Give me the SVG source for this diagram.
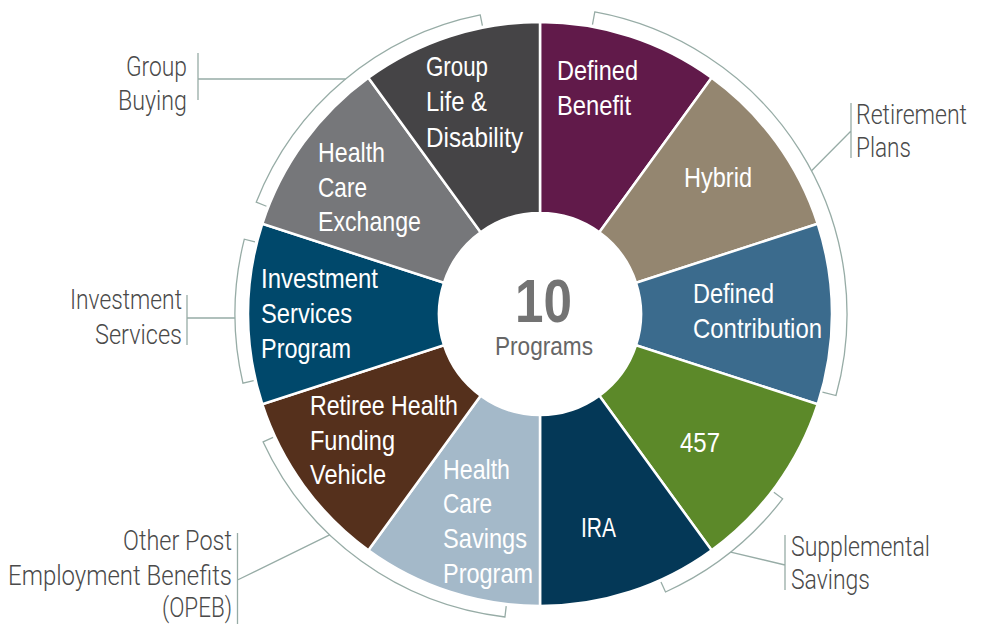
<svg xmlns="http://www.w3.org/2000/svg" width="984" height="624" viewBox="0 0 984 624">
<style>
.seg{stroke:#ffffff;stroke-width:2.5;stroke-linejoin:miter}
.lbl{font-family:'Liberation Sans',Arial,sans-serif;font-size:28px;fill:#ffffff}
.out{font-family:Roboto,'Liberation Sans',Arial,sans-serif;font-weight:300;font-size:28px;fill:#4a4a4a}
.br{fill:none;stroke:#97aca6;stroke-width:1.3}
</style>
<rect width="984" height="624" fill="#ffffff"/>
<g id="defined-benefit">
<path class="seg" fill="#611a4a" d="M 540 22 A 292 292 0 0 1 711.63 77.77 L 599.37 232.29 A 101 101 0 0 0 540 213 Z"/>
<text class="lbl" x="557" y="80" textLength="81" lengthAdjust="spacingAndGlyphs">Defined</text>
<text class="lbl" x="557" y="115" textLength="74" lengthAdjust="spacingAndGlyphs">Benefit</text>
</g>
<g id="hybrid">
<path class="seg" fill="#948670" d="M 711.63 77.77 A 292 292 0 0 1 817.71 223.77 L 636.06 282.79 A 101 101 0 0 0 599.37 232.29 Z"/>
<text class="lbl" x="684" y="187" textLength="68" lengthAdjust="spacingAndGlyphs">Hybrid</text>
</g>
<g id="defined-contribution">
<path class="seg" fill="#3b6b8d" d="M 817.71 223.77 A 292 292 0 0 1 817.71 404.23 L 636.06 345.21 A 101 101 0 0 0 636.06 282.79 Z"/>
<text class="lbl" x="693" y="303" textLength="81" lengthAdjust="spacingAndGlyphs">Defined</text>
<text class="lbl" x="693" y="338" textLength="129" lengthAdjust="spacingAndGlyphs">Contribution</text>
</g>
<g id="plan-457">
<path class="seg" fill="#5c8929" d="M 817.71 404.23 A 292 292 0 0 1 711.63 550.23 L 599.37 395.71 A 101 101 0 0 0 636.06 345.21 Z"/>
<text class="lbl" x="680" y="452" textLength="40" lengthAdjust="spacingAndGlyphs">457</text>
</g>
<g id="ira">
<path class="seg" fill="#043857" d="M 711.63 550.23 A 292 292 0 0 1 540 606 L 540 415 A 101 101 0 0 0 599.37 395.71 Z"/>
<text class="lbl" x="581" y="537" textLength="35" lengthAdjust="spacingAndGlyphs">IRA</text>
</g>
<g id="health-care-savings-program">
<path class="seg" fill="#a4b9c9" d="M 540 606 A 292 292 0 0 1 368.37 550.23 L 480.63 395.71 A 101 101 0 0 0 540 415 Z"/>
<text class="lbl" x="443" y="479" textLength="67" lengthAdjust="spacingAndGlyphs">Health</text>
<text class="lbl" x="443" y="513" textLength="49" lengthAdjust="spacingAndGlyphs">Care</text>
<text class="lbl" x="443" y="548" textLength="84" lengthAdjust="spacingAndGlyphs">Savings</text>
<text class="lbl" x="443" y="583" textLength="90" lengthAdjust="spacingAndGlyphs">Program</text>
</g>
<g id="retiree-health-funding-vehicle">
<path class="seg" fill="#55301c" d="M 368.37 550.23 A 292 292 0 0 1 262.29 404.23 L 443.94 345.21 A 101 101 0 0 0 480.63 395.71 Z"/>
<text class="lbl" x="310" y="415" textLength="148" lengthAdjust="spacingAndGlyphs">Retiree Health</text>
<text class="lbl" x="310" y="450" textLength="85" lengthAdjust="spacingAndGlyphs">Funding</text>
<text class="lbl" x="310" y="484" textLength="76" lengthAdjust="spacingAndGlyphs">Vehicle</text>
</g>
<g id="investment-services-program">
<path class="seg" fill="#00486b" d="M 262.29 404.23 A 292 292 0 0 1 262.29 223.77 L 443.94 282.79 A 101 101 0 0 0 443.94 345.21 Z"/>
<text class="lbl" x="261" y="288" textLength="117" lengthAdjust="spacingAndGlyphs">Investment</text>
<text class="lbl" x="261" y="323" textLength="91" lengthAdjust="spacingAndGlyphs">Services</text>
<text class="lbl" x="261" y="358" textLength="90" lengthAdjust="spacingAndGlyphs">Program</text>
</g>
<g id="health-care-exchange">
<path class="seg" fill="#76777a" d="M 262.29 223.77 A 292 292 0 0 1 368.37 77.77 L 480.63 232.29 A 101 101 0 0 0 443.94 282.79 Z"/>
<text class="lbl" x="318" y="162" textLength="67" lengthAdjust="spacingAndGlyphs">Health</text>
<text class="lbl" x="318" y="197" textLength="49" lengthAdjust="spacingAndGlyphs">Care</text>
<text class="lbl" x="318" y="231" textLength="103" lengthAdjust="spacingAndGlyphs">Exchange</text>
</g>
<g id="group-life-disability">
<path class="seg" fill="#454446" d="M 368.37 77.77 A 292 292 0 0 1 540 22 L 540 213 A 101 101 0 0 0 480.63 232.29 Z"/>
<text class="lbl" x="426" y="76" textLength="62" lengthAdjust="spacingAndGlyphs">Group</text>
<text class="lbl" x="426" y="111" textLength="61" lengthAdjust="spacingAndGlyphs">Life &amp;</text>
<text class="lbl" x="426" y="147" textLength="97" lengthAdjust="spacingAndGlyphs">Disability</text>
</g>
<g id="center">
<text x="543.5" y="322" text-anchor="middle" textLength="57" lengthAdjust="spacingAndGlyphs" style="font-family:'Liberation Sans',Arial,sans-serif;font-size:62px;font-weight:bold;fill:#737373">10</text>
<text x="544" y="355" text-anchor="middle" textLength="98" lengthAdjust="spacingAndGlyphs" style="font-family:'Liberation Sans',Arial,sans-serif;font-size:26px;fill:#666666">Programs</text>
</g>
<g id="connectors">
<path class="br" d="M 592.47 24.72 L 594.79 11.93 A 307 307 0 0 1 835.98 395.53 L 822.45 392.07"/>
<path class="br" d="M 811.57 170.82 L 851 131 M 851 103 L 851 158"/>
<path class="br" d="M 773.87 492.16 L 782.62 498.83 A 305 305 0 0 1 665.51 591.98 L 660.98 581.95"/>
<path class="br" d="M 730.7 552.03 L 785 565 M 785 535 L 785 590"/>
<path class="br" d="M 506.21 606.05 L 504.94 616.98 A 305 305 0 0 1 263.13 441.93 L 273.11 437.32"/>
<path class="br" d="M 329.67 534.87 L 237.5 580 M 237.5 533 L 237.5 624"/>
<path class="br" d="M 253.65 380.64 L 242.94 383.13 A 305 305 0 0 1 244.32 239.18 L 254.98 241.88"/>
<path class="br" d="M 235.03 318 L 187 318 M 187 295 L 187 345"/>
<path class="br" d="M 266.46 206.25 L 256.22 202.22 A 305 305 0 0 1 480.24 14.91 L 482.39 25.7"/>
<path class="br" d="M 345.6 79 L 198 79 M 198 53 L 198 100"/>
</g>
<g id="retirement-plans">
<text class="out" transform="translate(856 124) scale(0.8 1)" x="0" y="0" textLength="138.75" lengthAdjust="spacingAndGlyphs">Retirement</text>
<text class="out" transform="translate(856 157) scale(0.8 1)" x="0" y="0" textLength="68.75" lengthAdjust="spacingAndGlyphs">Plans</text>
</g>
<g id="supplemental-savings">
<text class="out" x="791" y="556" textLength="139" lengthAdjust="spacingAndGlyphs">Supplemental</text>
<text class="out" x="791" y="589" textLength="79" lengthAdjust="spacingAndGlyphs">Savings</text>
</g>
<g id="opeb">
<text class="out" x="232" y="550" text-anchor="end" textLength="109" lengthAdjust="spacingAndGlyphs">Other Post</text>
<text class="out" x="232" y="585" text-anchor="end" textLength="224" lengthAdjust="spacingAndGlyphs">Employment Benefits</text>
<text class="out" x="232" y="617" text-anchor="end" textLength="70" lengthAdjust="spacingAndGlyphs">(OPEB)</text>
</g>
<g id="investment-services">
<text class="out" x="182" y="309" text-anchor="end" textLength="112" lengthAdjust="spacingAndGlyphs">Investment</text>
<text class="out" x="182" y="344" text-anchor="end" textLength="87" lengthAdjust="spacingAndGlyphs">Services</text>
</g>
<g id="group-buying">
<text class="out" x="187" y="76" text-anchor="end" textLength="61" lengthAdjust="spacingAndGlyphs">Group</text>
<text class="out" x="187" y="110" text-anchor="end" textLength="69" lengthAdjust="spacingAndGlyphs">Buying</text>
</g>
</svg>
